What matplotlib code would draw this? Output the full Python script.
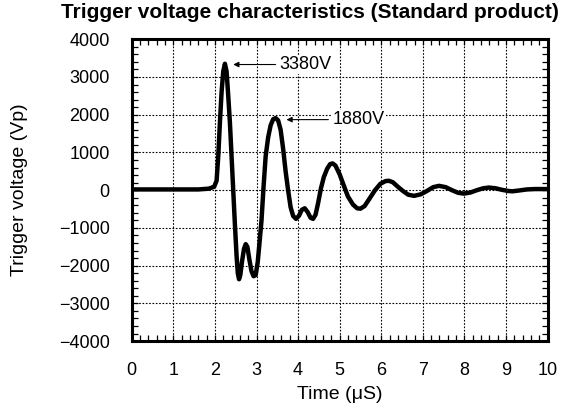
import matplotlib
matplotlib.use("Agg")
import matplotlib.pyplot as plt
from matplotlib.ticker import MultipleLocator

plt.rcParams['font.family'] = ['Liberation Sans', 'DejaVu Sans']

# waveform
time_us = [0.0, 1.0, 1.6, 1.85, 1.98, 2.04, 2.08, 2.12, 2.16, 2.20, 2.24, 2.28,
           2.32, 2.36, 2.40, 2.44, 2.48, 2.52, 2.55, 2.58, 2.61, 2.65, 2.70, 2.74,
           2.78, 2.83, 2.88, 2.93, 2.98, 3.03, 3.08, 3.12, 3.17, 3.22, 3.28, 3.34,
           3.40, 3.46, 3.52, 3.58, 3.64, 3.70, 3.76, 3.82, 3.88, 3.95, 4.02, 4.09,
           4.16, 4.23, 4.30, 4.36, 4.42, 4.48, 4.55, 4.62, 4.70, 4.77, 4.83, 4.90,
           5.00, 5.10, 5.20, 5.32, 5.42, 5.50, 5.60, 5.72, 5.85, 5.98, 6.10, 6.18,
           6.28, 6.40, 6.52, 6.65, 6.79, 6.95, 7.10, 7.25, 7.39, 7.55, 7.70, 7.85,
           7.99, 8.15, 8.30, 8.45, 8.59, 8.75, 8.90, 9.05, 9.15, 9.30, 9.50, 9.70,
           10.0]
voltage = [20, 20, 20, 40, 90, 250, 900, 1800, 2600, 3150, 3350, 3150,
           2500, 1800, 900, 0, -900, -1730, -2200, -2360, -2250, -1900, -1550, -1430,
           -1500, -1850, -2150, -2280, -2250, -1900, -1300, -800, 100, 900, 1400, 1720,
           1880, 1910, 1850, 1600, 1100, 500, 0, -450, -680, -760, -680, -520,
           -480, -580, -730, -760, -650, -350, 50, 350, 570, 690, 710, 650,
           420, 120, -170, -380, -480, -490, -420, -220, 0, 170, 240, 250,
           210, 90, -20, -120, -150, -110, -20, 80, 115, 80, 0, -70,
           -90, -60, 0, 50, 70, 50, 10, -20, -30, -10, 20, 30,
           30]

peak_labels = ['3380V', '1880V']
peak_points = [(2.44, 3330), (3.72, 1870)]
label_points = [(3.56, 3330), (4.83, 1870)]

fig = plt.figure(figsize=(5.68, 4.13), dpi=100)
ax = fig.add_axes([0.232, 0.174, 0.732, 0.731])

ax.plot(time_us, voltage, color='black', lw=3.2, solid_joinstyle='round', zorder=3)

ax.set_xlim(0, 10)
ax.set_ylim(-4000, 4000)
ax.xaxis.set_major_locator(MultipleLocator(1))
ax.xaxis.set_minor_locator(MultipleLocator(0.2))
ax.yaxis.set_major_locator(MultipleLocator(1000))
ax.yaxis.set_minor_locator(MultipleLocator(200))
ax.yaxis.set_major_formatter(plt.FuncFormatter(lambda v, p: f'{int(v)}'.replace('-', '\u2212')))

ax.grid(True, which='major', color='black', ls=(0, (1.5, 1.5)), lw=0.8)
ax.tick_params(which='both', direction='in', top=True, right=True,
               length=4, width=0.9)
ax.tick_params(axis='x', which='major', pad=15, labelsize=13)
ax.tick_params(axis='y', which='major', pad=16, labelsize=13)
for s in ax.spines.values():
    s.set_linewidth(2.2)

for lab, pt, tp in zip(peak_labels, peak_points, label_points):
    ax.annotate(lab, xy=pt, xytext=tp, fontsize=13, va='center', ha='left',
                bbox=dict(fc='white', ec='none', pad=1),
                arrowprops=dict(arrowstyle='-|>', color='black', lw=0.8,
                                mutation_scale=8, shrinkA=2, shrinkB=0))

ax.set_xlabel('Time (\u03bcS)', fontsize=14)
ax.set_ylabel('Trigger voltage (Vp)', fontsize=14)
ax.xaxis.set_label_coords(0.5, -0.15)
ax.yaxis.set_label_coords(-0.25, 0.5)
fig.text(0.546, 0.970, 'Trigger voltage characteristics (Standard product)',
         ha='center', va='center', fontsize=15, fontweight='bold')

fig.savefig('out.png', dpi=100)
